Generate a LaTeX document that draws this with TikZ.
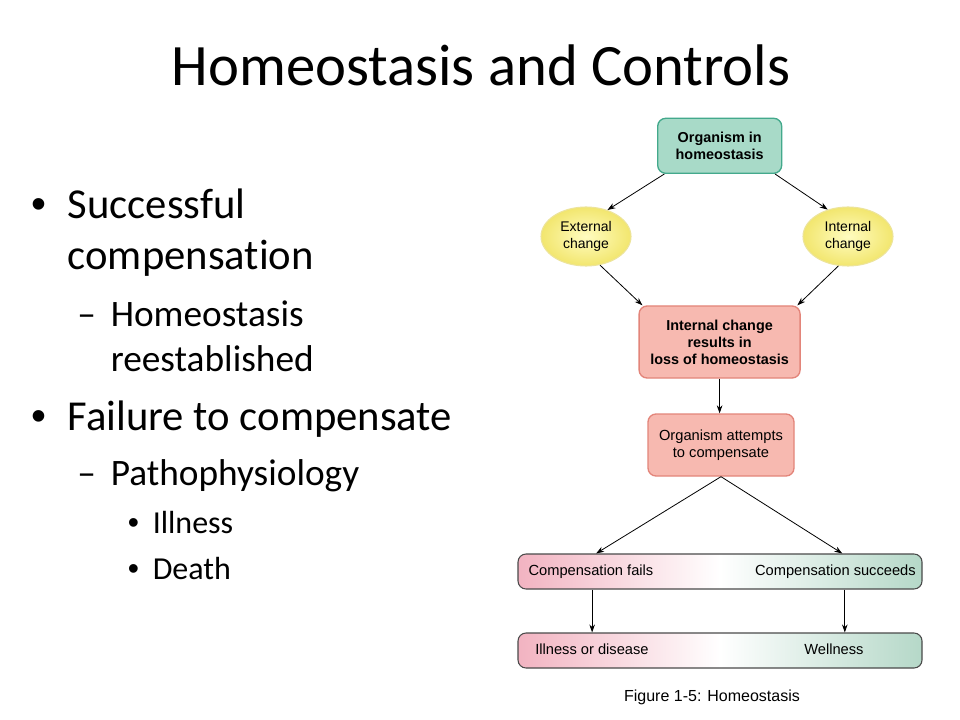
\documentclass[tikz,border=0pt]{standalone}
\usepackage{fontspec}
\setmainfont{Carlito}[Ligatures={NoCommon,NoContextual}]
\newfontfamily\arialf{Liberation Sans}
\usetikzlibrary{shapes.geometric,arrows.meta}
\definecolor{grnfill}{HTML}{A8DAC8}
\definecolor{grnline}{HTML}{43A98C}
\definecolor{pnkfill}{HTML}{F7B9B0}
\definecolor{pnkline}{HTML}{E3857A}
\definecolor{ylwin}{HTML}{FFFCC0}
\definecolor{ylwout}{HTML}{F2E66E}
\definecolor{ylwline}{HTML}{EDE49A}
\definecolor{barpink}{HTML}{F2B3C1}
\definecolor{bargreen}{HTML}{B5D8C8}
\definecolor{barline}{HTML}{4A4A4A}
\tikzset{
  lvlone/.style={anchor=base west,inner sep=0pt,font=\fontsize{32}{38.4}\selectfont},
  lvltwo/.style={anchor=base west,inner sep=0pt,font=\fontsize{28}{33.6}\selectfont},
  lvlthree/.style={anchor=base west,inner sep=0pt,font=\fontsize{24}{28.8}\selectfont},
  bulone/.style={anchor=base west,inner sep=0pt,font=\arialf\fontsize{32}{38.4}\selectfont},
  bulthree/.style={anchor=base west,inner sep=0pt,font=\arialf\fontsize{24}{28.8}\selectfont},
  dtext/.style={font=\arialf\fontsize{10.5}{12.75}\selectfont,align=center,inner sep=0pt},
  greenbox/.style={dtext,font=\arialf\bfseries\fontsize{10.8}{12.5}\selectfont,draw=grnline,line width=1pt,fill=grnfill,rounded corners=6pt,minimum width=93pt,minimum height=41.25pt},
  pinkbox/.style={dtext,draw=pnkline,line width=1pt,fill=pnkfill,rounded corners=6pt},
  yellowell/.style={dtext,ellipse,draw=ylwline,line width=0.8pt,inner color=ylwin,outer color=ylwout,minimum width=67.5pt,minimum height=44.25pt},
  barbox/.style={draw=barline,line width=0.8pt,rounded corners=6pt,left color=barpink,right color=bargreen,middle color=white,minimum width=303pt,minimum height=26.25pt,inner sep=0pt},
  bartext/.style={font=\arialf\fontsize{11}{13}\selectfont,inner sep=0pt},
  arr/.style={-{Stealth[length=6pt,width=4.2pt]},line width=0.6pt,black}
}
\begin{document}
\begin{tikzpicture}[x=0.75pt,y=-0.75pt]
\useasboundingbox (0,0) rectangle (960,720);
\fill[white] (0,0) rectangle (960,720);

% title
\node[anchor=base,inner sep=0pt,font=\fontsize{44}{52}\selectfont] (title) at (481,85.7) {Homeostasis and Controls};

% bullets
\node[bulone] (b1) at (31,219) {•};
\node[lvlone] (t1a) at (67.5,219) {Successful};
\node[lvlone] (t1b) at (67.5,270) {compensation};
\node[lvltwo] (d1) at (77,326) {–};
\node[lvltwo] (t2a) at (110.5,326) {Homeostasis};
\node[lvltwo] (t2b) at (110.5,371) {reestablished};
\node[bulone] (b2) at (31,430) {•};
\node[lvlone] (t3) at (67.5,430) {Failure to compensate};
\node[lvltwo] (d2) at (77,485) {–};
\node[lvltwo] (t4) at (110.5,485) {Pathophysiology};
\node[bulthree] (b3) at (127.5,533) {•};
\node[lvlthree] (t5) at (152.5,533) {Illness};
\node[bulthree] (b4) at (127.5,579) {•};
\node[lvlthree] (t6) at (152.5,579) {Death};

% diagram
\node[greenbox] (org) at (719.7,145.8) {Organism in\\homeostasis};
\node[yellowell] (ext) at (586,236.5) {External\\change};
\node[yellowell] (int) at (848,236.5) {Internal\\change};
\node[pinkbox,font=\arialf\bfseries\fontsize{10.8}{12.75}\selectfont,minimum width=120.75pt,minimum height=54pt] (loss) at (719.6,342) {Internal change\\results in\\loss of homeostasis};
\node[pinkbox,font=\arialf\fontsize{11}{13}\selectfont,minimum width=109.5pt,minimum height=46.5pt] (att) at (721,445) {Organism attempts\\to compensate};

\node[barbox] (bar1) at (720,571.5) {};
\node[bartext,anchor=base west] (fails) at (528.3,575.7) {Compensation fails};
\node[bartext,anchor=base east] (succ) at (916,575.7) {Compensation succeeds};
\node[barbox] (bar2) at (720,650.5) {};
\node[bartext,anchor=base west] (ill) at (535,654) {Illness or disease};
\node[bartext,anchor=base west] (well) at (804,654) {Wellness};

\node[anchor=base,inner sep=0pt,font=\arialf\fontsize{12}{14}\selectfont] (cap) at (712,701) {Figure 1-5: Homeostasis};

% connectors
\draw[arr] ([xshift=5.5pt]org.south west) -- (ext.51);
\draw[arr] ([xshift=-5.5pt]org.south east) -- (int.127);
\draw[arr] (ext.-64) -- ([xshift=3pt]loss.north west);
\draw[arr] (int.-108) -- ([xshift=-2.5pt]loss.north east);
\draw[arr] (loss.south) -- (att.north -| loss.south);
\draw[arr] (att.south) -- ([xshift=59pt]bar1.north west);
\draw[arr] (att.south) -- ([xshift=-60.2pt]bar1.north east);
\draw[arr] ([xshift=56pt]bar1.south west) -- ([xshift=56pt]bar2.north west);
\draw[arr] ([xshift=-58.3pt]bar1.south east) -- ([xshift=-58.3pt]bar2.north east);
\end{tikzpicture}
\end{document}
